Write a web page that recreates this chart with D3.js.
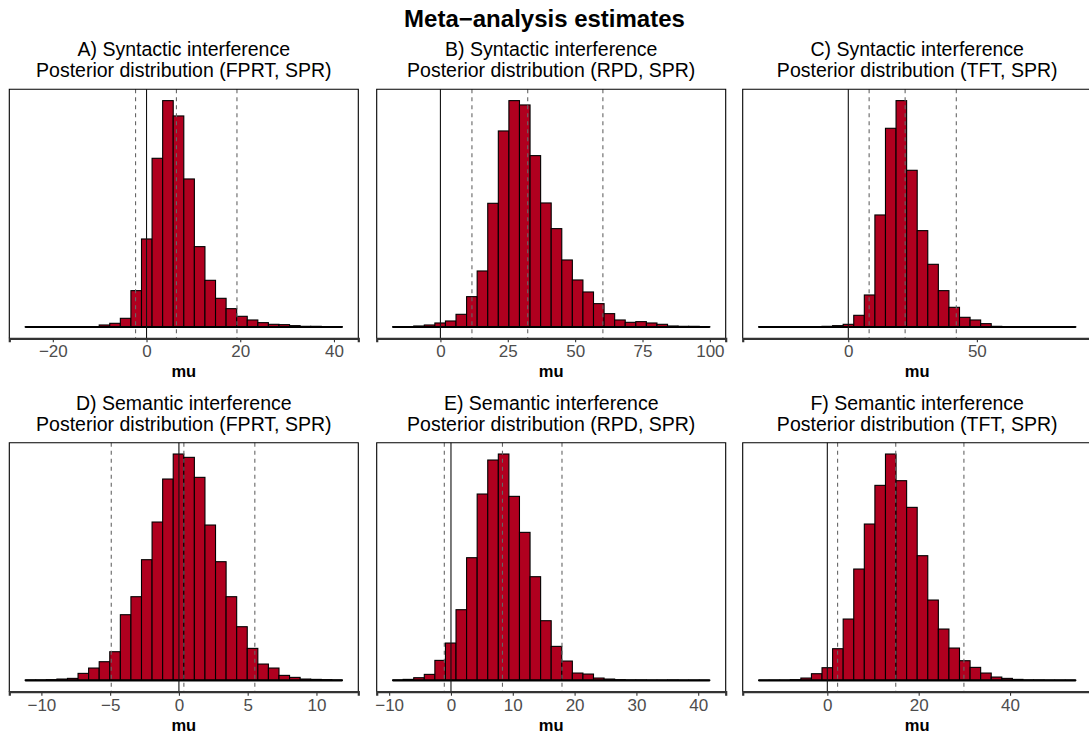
<!doctype html>
<html>
<head>
<meta charset="utf-8">
<script src="https://d3js.org/d3.v7.min.js"></script>
<style>
  body { margin: 0; background: #fff; }
  svg text { font-family: "Liberation Sans", Arial, sans-serif; }
</style>
</head>
<body>
<script>
// panel titles
var titles = [
  ["A) Syntactic interference", "Posterior distribution (FPRT, SPR)"],
  ["B) Syntactic interference", "Posterior distribution (RPD, SPR)"],
  ["C) Syntactic interference", "Posterior distribution (TFT, SPR)"],
  ["D) Semantic interference", "Posterior distribution (FPRT, SPR)"],
  ["E) Semantic interference", "Posterior distribution (RPD, SPR)"],
  ["F) Semantic interference", "Posterior distribution (TFT, SPR)"]
];

// histogram bins: left edge of first bin and bin width (30 bins each)
var binStart = [-25.9, -17.76, -34.9, -11.18, -9.45, -15.05];
var binWidth = [2.257, 3.925, 4.113, 0.769, 1.711, 2.315];

// bin counts
var countsA = [0.5,0,0.5,0,0,0.5,1,6,11,26,109,264,506,679,633,444,241,140,86,55,32,21,13,8,7,4,2,2,1,0.5];
var countsB = [0.5,1,3,6,12,18,38,91,168,371,588,679,666,514,372,295,201,141,105,70,40,21,14,16,12,8,3,2,2,1];
var countsC = [0.5,0.5,0.5,0.5,1,1,2,4,8,35,96,336,596,679,470,289,188,109,59,29,21,10,2,1,1,0.5,0.5,1,1,0.5];
var countsD = [1,1,2,4,6,21,37,56,86,197,251,362,475,604,679,669,609,466,356,251,161,96,49,37,15,9,4,3,2,1];
var countsE = [1,3,8,18,60,112,212,368,559,661,679,552,444,311,179,102,58,22,19,7,4,2,1,1,0.5,0.5,1,0.5,0.5,0.5];
var countsF = [0.5,0.5,0.5,2,7,20,38,95,184,334,469,585,679,599,519,374,241,154,97,59,39,22,10,6,3,1,1,0.5,0.5,0.5];
var counts = [countsA, countsB, countsC, countsD, countsE, countsF];

// credible interval lower, mean, upper
var ciLower = [-2.34, 11.7, 8.1, -4.92, -1.08, 2.25];
var ciMean  = [6.38, 32.4, 22.1, 0.36, 8.33, 14.98];
var ciUpper = [19.3, 60.3, 42.0, 5.52, 17.96, 29.9];

// x axis ticks
var xTicks = [
  [-20, 0, 20, 40],
  [0, 25, 50, 75, 100],
  [0, 50],
  [-10, -5, 0, 5, 10],
  [-10, 0, 10, 20, 30, 40],
  [0, 20, 40]
];

var W = 1089, H = 736;
var svg = d3.select("body").append("svg")
  .attr("width", W)
  .attr("height", H);

svg.append("text")
  .attr("x", W / 2)
  .attr("y", 27)
  .attr("text-anchor", "middle")
  .style("font-size", "24px")
  .style("font-weight", "bold")
  .text("Meta\u2212analysis estimates");

var colLeft = [9.3, 376.7, 742.7];
var pw = 349;
var rowTop = [89.3, 442.7];
var ph = 249;

var fmt = function(d) { return d < 0 ? "\u2212" + Math.abs(d) : String(d); };

titles.forEach(function(t, i) {
  var x0 = colLeft[i % 3], y0 = rowTop[Math.floor(i / 3)];
  var g = svg.append("g").attr("transform", "translate(" + x0 + "," + y0 + ")");

  var c = counts[i];
  var bins = c.map(function(v, k) {
    return { x0: binStart[i] + k * binWidth[i], x1: binStart[i] + (k + 1) * binWidth[i], n: v };
  });
  var lo = bins[0].x0, hi = bins[bins.length - 1].x1, r = hi - lo;
  var x = d3.scaleLinear().domain([lo - 0.05 * r, hi + 0.05 * r]).range([0, pw]);
  var ymax = d3.max(c);
  var y = d3.scaleLinear().domain([-0.05 * ymax, 1.05 * ymax]).range([ph, 0]);

  // titles
  g.append("text").attr("x", pw / 2).attr("y", -33)
    .attr("text-anchor", "middle").style("font-size", "19.5px").text(t[0]);
  g.append("text").attr("x", pw / 2).attr("y", -12)
    .attr("text-anchor", "middle").style("font-size", "19.5px").text(t[1]);

  // bars
  g.selectAll("rect.bar").data(bins).enter().append("rect")
    .attr("class", "bar")
    .attr("x", function(d) { return x(d.x0); })
    .attr("width", function(d) { return x(d.x1) - x(d.x0); })
    .attr("y", function(d) { return y(d.n); })
    .attr("height", function(d) { return y(0) - y(d.n); })
    .attr("fill", "#B0001F")
    .attr("stroke", "#000")
    .attr("stroke-width", 1.1);

  // outline of empty bins along the baseline
  g.append("line")
    .attr("x1", x(lo)).attr("x2", x(hi))
    .attr("y1", y(0)).attr("y2", y(0))
    .attr("stroke", "#000").attr("stroke-width", 2.2);

  // zero line
  g.append("line")
    .attr("x1", x(0)).attr("x2", x(0))
    .attr("y1", 0).attr("y2", ph)
    .attr("stroke", "#111").attr("stroke-width", 1.1);

  // interval lines
  [ciLower[i], ciMean[i], ciUpper[i]].forEach(function(v) {
    g.append("line")
      .attr("x1", x(v)).attr("x2", x(v))
      .attr("y1", 0).attr("y2", ph)
      .attr("stroke", "#666").attr("stroke-width", 1.1)
      .attr("stroke-dasharray", "4,4");
  });

  // panel border (top, left, right)
  g.append("path")
    .attr("d", "M0," + ph + "V0H" + pw + "V" + ph)
    .attr("fill", "none").attr("stroke", "#000").attr("stroke-width", 1.1);

  // x axis
  var ax = g.append("g").attr("transform", "translate(0," + ph + ")")
    .call(d3.axisBottom(x).tickValues(xTicks[i]).tickFormat(fmt).tickSizeOuter(0).tickSize(4).tickPadding(3));
  ax.select(".domain").attr("stroke", "#333").attr("stroke-width", 2.2);
  ax.selectAll(".tick line").attr("stroke", "#333").attr("stroke-width", 1.1);
  ax.selectAll(".tick text")
    .attr("fill", "#4D4D4D")
    .style("font-size", "17px")
    .style("font-family", "'Liberation Sans', Arial, sans-serif");

  g.append("text").attr("x", pw / 2).attr("y", ph + 39)
    .attr("text-anchor", "middle")
    .style("font-size", "16.5px").style("font-weight", "bold")
    .text("mu");
});
</script>
</body>
</html>
